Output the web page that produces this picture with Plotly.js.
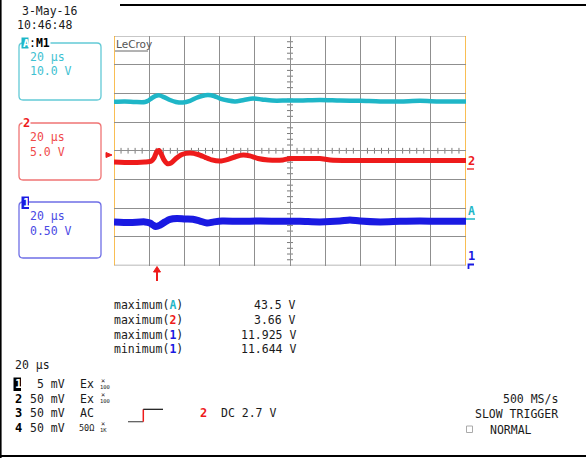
<!DOCTYPE html>
<html><head><meta charset="utf-8">
<script src="https://cdn.plot.ly/plotly-3.0.1.min.js"></script>
<style>html,body{margin:0;padding:0;background:#fff;}#chart{width:586px;height:458px;}</style>
</head><body><div id="chart"></div>
<script>
// ---- data (x in divisions 0..10, y in divisions -4..4) ----
const cyanX=[0,0.31,0.60,0.88,0.97,1.08,1.19,1.28,1.42,1.59,1.76,1.96,2.16,2.33,2.50,2.67,2.84,3.01,3.24,3.44,3.69,3.95,4.20,4.49,4.91,5.28,5.85,6.42,6.99,7.56,8.13,8.69,9.26,10];
const cyanY=[1.71,1.72,1.70,1.70,1.74,1.84,1.91,1.93,1.87,1.77,1.70,1.68,1.74,1.84,1.91,1.94,1.91,1.82,1.75,1.72,1.77,1.82,1.79,1.75,1.75,1.75,1.77,1.75,1.74,1.72,1.72,1.74,1.72,1.72];
const redX=[0,0.45,0.88,1.05,1.14,1.22,1.28,1.34,1.42,1.51,1.62,1.76,1.93,2.16,2.39,2.59,2.78,3.01,3.24,3.47,3.67,3.86,4.09,4.38,4.80,5.00,5.28,5.85,6.14,6.70,7.56,8.41,9.26,10];
const redY=[-0.39,-0.41,-0.39,-0.37,-0.25,-0.02,0.01,-0.11,-0.32,-0.45,-0.43,-0.27,-0.13,-0.08,-0.13,-0.23,-0.32,-0.36,-0.30,-0.20,-0.15,-0.18,-0.27,-0.32,-0.32,-0.27,-0.27,-0.27,-0.32,-0.34,-0.34,-0.34,-0.34,-0.34];
const blueX=[0,0.45,0.88,1.02,1.11,1.19,1.31,1.45,1.59,1.79,2.02,2.24,2.44,2.64,2.84,3.07,3.58,4.15,4.72,5.28,5.85,6.42,6.70,6.99,7.56,8.13,8.69,9.26,10];
const blueY=[-2.48,-2.50,-2.48,-2.52,-2.59,-2.64,-2.59,-2.48,-2.39,-2.36,-2.38,-2.39,-2.45,-2.52,-2.48,-2.45,-2.46,-2.45,-2.46,-2.46,-2.48,-2.45,-2.41,-2.45,-2.48,-2.46,-2.45,-2.46,-2.46];

const boxIds=['A','2','1'];
const boxTimebase=['20 µs','20 µs','20 µs'];
const boxVolts=['10.0 V','5.0 V','0.50 V'];
const measureNames=['maximum','maximum','maximum','minimum'];
const measureChannels=['A','2','1','1'];
const measureValues=['43.5 V','3.66 V','11.925 V','11.644 V'];
const rowIds=['1','2','3','4'];
const rowScales=[' 5 mV','50 mV','50 mV','50 mV'];
const rowCoupling=['Ex','Ex','AC','50Ω'];
const rowProbe=['100','100','','1K'];
const dateText='3-May-16', timeText='10:46:48';
const timebaseText='20 µs';
const trigText='DC 2.7 V', trigChan='2';
const rateText='500 MS/s', modeText='SLOW TRIGGER', stateText='NORMAL';

// ---- styling ----
const W=586,H=458;
const FONT='DejaVu Sans Mono';
const CYAN='#1fb6c7',RED='#ee1b1b',BLUE='#1a1ae2';
const chanColor={A:CYAN,'2':RED,'1':BLUE};
const boxLine={A:'#63cad6','2':'#f07474','1':'#6f6fe6'};
const boxText={A:'#3ec1d1','2':'#f04a4a','1':'#4a4ae4'};
const X=p=>p/W, Y=p=>1-p/H;
const GX0=114,GX1=466,GY0=36,GY1=265.5;

const traces=[
 {x:cyanX,y:cyanY,mode:'lines',line:{color:CYAN,width:4.5,shape:'spline',smoothing:0.8},hoverinfo:'skip'},
 {x:redX,y:redY,mode:'lines',line:{color:RED,width:5,shape:'spline',smoothing:0.5},hoverinfo:'skip'},
 {x:blueX,y:blueY,mode:'lines',line:{color:BLUE,width:7,shape:'spline',smoothing:0.8},hoverinfo:'skip'}
];

const shapes=[];
const ann=[];
function pl(x0,y0,x1,y1,color,w){shapes.push({type:'line',xref:'paper',yref:'paper',x0:X(x0),y0:Y(y0),x1:X(x1),y1:Y(y1),line:{color:color,width:w||1}});}
function prect(x0,y0,x1,y1,fill,lc){shapes.push({type:'rect',xref:'paper',yref:'paper',x0:X(x0),y0:Y(y0),x1:X(x1),y1:Y(y1),fillcolor:fill||'rgba(0,0,0,0)',line:{color:lc||'rgba(0,0,0,0)',width:lc?1:0}});}
function ppath(d,fill,lc,w){shapes.push({type:'path',xref:'paper',yref:'paper',path:d,fillcolor:fill||'rgba(0,0,0,0)',line:{color:lc||'rgba(0,0,0,0)',width:w||0}});}
function rr(x0,y0,x1,y1,r){
 return `M${X(x0+r)},${Y(y0)} L${X(x1-r)},${Y(y0)} Q${X(x1)},${Y(y0)} ${X(x1)},${Y(y0+r)} L${X(x1)},${Y(y1-r)} Q${X(x1)},${Y(y1)} ${X(x1-r)},${Y(y1)} L${X(x0+r)},${Y(y1)} Q${X(x0)},${Y(y1)} ${X(x0)},${Y(y1-r)} L${X(x0)},${Y(y0+r)} Q${X(x0)},${Y(y0)} ${X(x0+r)},${Y(y0)} Z`;
}
function txt(text,px,py,color,size,anchor,extra){
 ann.push(Object.assign({text:text,x:X(px),y:Y(py),xref:'paper',yref:'paper',xanchor:anchor||'left',yanchor:'middle',showarrow:false,borderpad:0,font:{family:FONT,size:size||11.5,color:color||'#1a1a1a'}},extra||{}));
}

// outer frame
pl(0.8,0,0.8,H,'#000',1.6);
pl(120,5,W,5,'#000',2);
pl(0,456,W,456,'#000',2.2);

// graticule frame (data coords)
shapes.push({type:'line',xref:'x',yref:'y',x0:0,x1:10,y0:4,y1:4,line:{color:'#b4b4b4',width:1.5},layer:'below'});
shapes.push({type:'line',xref:'x',yref:'y',x0:0,x1:10,y0:-4,y1:-4,line:{color:'#a0a0a0',width:1.5},layer:'below'});
shapes.push({type:'line',xref:'x',yref:'y',x0:0,x1:0,y0:-4,y1:4,line:{color:'#f7a81b',width:1.5},layer:'below'});
shapes.push({type:'line',xref:'x',yref:'y',x0:10,x1:10,y0:-4,y1:4,line:{color:'#f7a81b',width:1.5},layer:'below'});
// minor ticks on centre lines
for(let i=1;i<50;i++){const v=i*0.2; if(Math.abs(v-Math.round(v))<1e-6) continue;
 shapes.push({type:'line',xref:'x',yref:'y',x0:v,x1:v,y0:-0.1,y1:0.1,line:{color:'#7a7a7a',width:1},layer:'below'});}
for(let i=1;i<40;i++){const v=-4+i*0.2; if(Math.abs(v-Math.round(v))<1e-6) continue;
 shapes.push({type:'line',xref:'x',yref:'y',x0:4.915,x1:5.085,y0:v,y1:v,line:{color:'#7a7a7a',width:1},layer:'below'});}

// LeCroy logo
txt('LeCroy',115,44,'#555',10.5,'left',{font:{family:'DejaVu Sans',size:10.5,color:'#555'}});
pl(115,51,148,51,'#666',1);

// date/time
txt(dateText,21,11.5);
txt(timeText,16,25);

// channel boxes
const boxTop=[43,123,202], boxBot=[100,180,258];
boxIds.forEach((id,i)=>{
 ppath(rr(19,boxTop[i],101,boxBot[i],4),'rgba(0,0,0,0)',boxLine[id],1.3);
 txt(boxTimebase[i],29,boxTop[i]+14.5,boxText[id]);
 txt(boxVolts[i],29,boxTop[i]+28.5,boxText[id]);
});
// box labels
prect(21.5,37.5,29,48.5,CYAN);
txt('<b>A</b>',22,43,'#fff',11);
txt(':<b>M1</b>',28,43,'#000',11.5,'left',{bgcolor:'#fff'});
txt('<b>2</b>',21.5,123,RED,12,'left',{bgcolor:'#fff'});
prect(21.5,196.5,29,209,BLUE);
txt('<b>1</b>',22,202.5,'#fff',11.5);

// left markers
ppath(`M${X(106)},${Y(152.5)} L${X(112)},${Y(155)} L${X(106)},${Y(157.5)} Z`,RED,RED,1);

// right markers
txt('<b>2</b>',466.5,161,RED,12);
pl(467,169,474,169,RED,1.3);
txt('<b>A</b>',467,211,CYAN,11.5);
pl(466,219,475,219,CYAN,1.5);
txt('<b>1</b>',467,256,BLUE,12);
ppath(`M${X(474)},${Y(264.5)} L${X(468.5)},${Y(264.5)} L${X(468.5)},${Y(269)}`,'rgba(0,0,0,0)',BLUE,1.8);

// trigger arrow under grid
pl(157,270,157,281,RED,2);
ppath(`M${X(153.5)},${Y(272)} L${X(157)},${Y(266.5)} L${X(160.5)},${Y(272)} Z`,RED,RED,1);

// measurements
const mY=[305,320,334.5,349];
measureNames.forEach((n,i)=>{
 const c=measureChannels[i];
 txt(n+'(<b><span style="color:'+chanColor[c]+'">'+c+'</span></b>)',113,mY[i]);
 txt(measureValues[i],297.5,mY[i],'#1a1a1a',11.5,'right');
});

// bottom-left channel table
txt(timebaseText,14,365);
const rY=[384,398.5,413,427.5];
prect(13.5,377.5,21,391,'#000');
rowIds.forEach((id,i)=>{
 txt('<b>'+id+'</b>',14,rY[i],i===0?'#fff':'#000',12);
 txt(rowScales[i],29,rY[i]);
 if(rowCoupling[i]==='50Ω') txt(rowCoupling[i],77.5,rY[i],'#1a1a1a',8.5);
 else txt(rowCoupling[i],78.5,rY[i]);
 if(rowProbe[i]){
  txt('×',99.5,rY[i]-3.5,'#1a1a1a',7);
  txt(rowProbe[i],99,rY[i]+2.8,'#1a1a1a',5.5);
 }
});
// trigger symbol
pl(128,421.7,143.3,421.7,'#555',1.2);
pl(143.3,421.7,143.3,409.3,RED,1.5);
pl(143.3,409.3,163,409.3,'#111',1.2);
txt('<b>'+trigChan+'</b>',198.5,413,RED,12);
txt(trigText,219.5,413);

// bottom right
txt(rateText,559,399,'#1a1a1a',11.5,'right');
txt(modeText,559,414,'#1a1a1a',11.5,'right');
prect(466.5,426,472.5,432.5,'rgba(0,0,0,0)','#aaa');
txt(stateText,489,429.5);

const layout={
 width:W,height:H,margin:{l:0,r:0,t:0,b:0},
 paper_bgcolor:'#fff',plot_bgcolor:'#fff',showlegend:false,
 xaxis:{domain:[X(GX0),X(GX1)],range:[0,10],dtick:1,tick0:0,showgrid:true,gridcolor:'#8f8f8f',gridwidth:1,zeroline:false,showticklabels:false,ticks:'',showline:false,fixedrange:true},
 yaxis:{domain:[Y(GY1),Y(GY0)],range:[-4,4],dtick:1,tick0:0,showgrid:true,gridcolor:'#8f8f8f',gridwidth:1,zeroline:false,showticklabels:false,ticks:'',showline:false,fixedrange:true},
 shapes:shapes,annotations:ann
};
Plotly.newPlot('chart',traces,layout,{staticPlot:true,displayModeBar:false});
</script></body></html>
